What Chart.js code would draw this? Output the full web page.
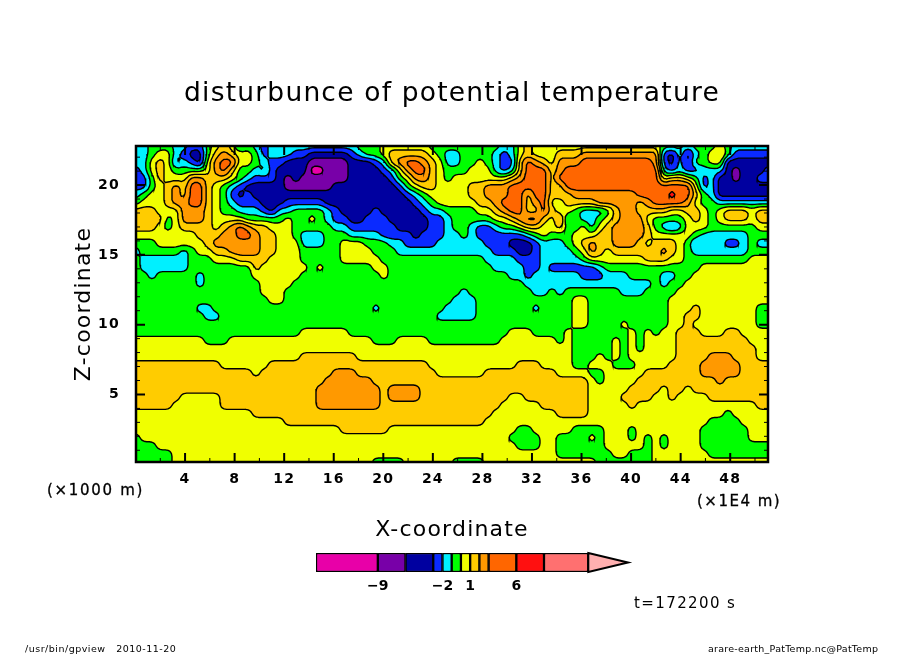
<!DOCTYPE html>
<html>
<head>
<meta charset="utf-8">
<style>
  html, body { margin: 0; padding: 0; background: #fff; }
  #wrap { position: relative; width: 904px; height: 654px; overflow: hidden; }
  canvas { position: absolute; }
  .note { position: absolute; white-space: pre; color: #000; font-family: "DejaVu Sans", sans-serif; line-height: 1; }
</style>
<script src="https://cdn.jsdelivr.net/npm/chart.js@4"></script>
</head>
<body>
<div id="wrap">
  <canvas id="main_chart" width="904" height="654" style="left:0;top:0"></canvas>
  <canvas id="bar_chart" width="344" height="60" style="left:296px;top:545px"></canvas>
  <div class="note" style="left:47px;top:483px;font-size:15px;letter-spacing:1.7px;-webkit-text-stroke:.3px #000">(×1000 m)</div>
  <div class="note" style="left:697px;top:494px;font-size:15px;letter-spacing:1.5px;-webkit-text-stroke:.3px #000">(×1E4 m)</div>
  <div class="note" style="left:634px;top:596px;font-size:15px;letter-spacing:1.4px">t=172200 s</div>
  <div class="note" style="left:25px;top:644px;font-size:9.5px;letter-spacing:.5px">/usr/bin/gpview   2010-11-20</div>
  <div class="note" style="left:708px;top:644px;font-size:9.5px;letter-spacing:.25px">arare-earth_PatTemp.nc@PatTemp</div>
</div>
<script>
const titleText = "disturbunce of potential temperature";
const xTitle = "X-coordinate";
const zTitle = "Z-coordinate";

// colour classes, lowest to highest, a..m in the rows below
const levelKeys = "abcdefghijklm";
const levelColors = ["#e800a8","#7800a8","#0000a0","#0a2aff","#00f0ff","#00ff00","#f0ff00","#ffcc00","#ff9900","#ff6600","#ff1010","#ff7070","#ffb0b0"];
const levelBounds = [-15.7,-9,-6,-3,-2,-1,0,1,2,3,6,9,13.8];
const barTip = 18.1;
const barTicks = [-9,-2,1,6];

const xMin = 0.04, xMax = 51.05;
const zMin = 0.16, zMax = 22.8;

// field, top row first, one letter per grid node
const rowsLeft = [
"eefffeeddfghgefedeeeeeeeeee",
"eefggedccfhihggfdeeeddccccc",
"eeghgdedcgijjggfeddcccbbbbb",
"deghgffffgijhffefdccccaabbb",
"ddfhgggiihhhgfedddcbcbbbbbb",
"ddfghihjjhgfedcccccbbbbbbcc",
"efgghihjjhgfdcdcccccccccccc",
"fggghiijjhgfedddcccdddddccc",
"hhhgggiiihgffeeedceeffffedc",
"hhhhfgiiihggggfffffgffgfedd",
"hhhgfghhhhghijihhgggfffffee",
"gggggggghhhiijjihhggfeeefff",
"fffgggggghiiiiiihhgggeeeffg",
"efffffefgghhiiiihhgggfffffg",
"feeeeeefffggghhhhggggfffffg",
"feeeeeeffffffffhggggggfgfff",
"ffefffffeffffffggggggffffff",
"ffffffffefffffffggggfffffff",
"ffffffffffffffffgggffffffff",
"fffffffffffffffffggffffffff",
"ffffffffeefffffffffffffffff",
"fffffffffeeffffffffffffffff",
"fffffffffffffffffffffffffff",
"fffffffffffffffffffffgggggg",
"gggggggggfffggggggggggggggg",
"ggggggggggggggggggggggggggg",
"ggggggggggggggggggggghhhhhh",
"hhhhhhhhhhhgggggghhhhhhhhhh",
"hhhhhhhhhhhhhhhghhhhhhhhhii",
"hhhhhhhhhhhhhhhhhhhhhhhhiii",
"hhhhhhhhhhhhhhhhhhhhhhhiiii",
"hhhhhhggggghhhhhhhhhhhhiiii",
"hhhhhgggggghhhhhhhhhhhhiiii",
"ggggggggggggggghhhhhhhhhhhh",
"ggggggggggggggggggghhhhhhhh",
"ggggggggggggggggggggggggggh",
"fgggggggggggggggggggggggggg",
"fffgggggggggggggggggggggggg",
"fffffgggggggggggggggggggggg",
"fffffgggggggggggggggggggggg"];
const rowsMid = [
"efffggggggfffffffffeeghggg",
"deffghhhhhgfeeffffedeghggg",
"cccdehijjihgeeffgfeddhjihg",
"ccccdegijjhgfffgggedehjjjh",
"cccccdfgiihgfggggggghijjjh",
"ccccccdfghhgggghhiiijjjjjh",
"cccccccdefggggghhiiijjhjjh",
"ccccccccdefggggghhijjjhijg",
"cccdcccccdeeffffgghijjhhjh",
"ccdddcccccddefffffgghijjhg",
"ddddddccccddeffeddeffghhgg",
"eeeeddddcdddeefeddddddefgf",
"ggfffeeddddeeeeeedddcccdee",
"gggfffeeeeeeeeeeeedddccdee",
"ggggfffffffffffffeeeedddee",
"fffggfffffffffffffeeeedded",
"ffffgfffffffffffffffeedeee",
"ffffffffffffffffffffffeeee",
"ffffffffffffffeffffffffeef",
"fffffffffffffeeeffffffffff",
"fffeffffffffeeeefffffffeff",
"fffffffffffeeeeeffffffffff",
"ffffffffffffffffffffffffff",
"ffffffffffffffffffffgggfff",
"gggfffggggfffffffffggggggg",
"gggggggggggggggggggggggggg",
"hggggggggggggggggggggggggg",
"hhhhhhhhhhggggggggggghhhgg",
"ihhhhhhhhhhgggggghhhhhhhhh",
"iiihhhhhhhhhhhhhhhhhhhhhhh",
"iiiihiiiihhhhhhhhhhhhhhhhh",
"iiiihiiiihhhhhhhhhhhgghhhh",
"iiiihhhhhhhhhhhhhhhggggghh",
"hhhhhhhhhhhhhhhhhhgggggggg",
"hhhhhhhhhhhhhhhhhggggggggg",
"hhhhhggggggggggggggggffggg",
"ggggggggggggggggggggffffgg",
"gggggggggggggggggggggfffgg",
"gggggggggggggggggggggggggg",
"gggffffggggggffffggggggggg"];
const rowsRight = [
"gggggggggggggfffefffgfeeeee",
"hhhiiiiiiiiiidcecefghfddddd",
"iiijjjjjjjjjidcecffggcccccc",
"ijjjjjjjjjjjjededdeeecbcccd",
"jjjjjjjjjjjjjghhgfdeccbccdd",
"hjjjjjjjjjjjjjjjjgdeccccccc",
"hhiiiiiiiijjjjkjjhfeccccccc",
"ghhhhiiiiihijjjjigffeeeeeee",
"ggfeeefhiihhhhgghhgfghhhghh",
"iefeefghiiigffffghgfghhhghh",
"hffgeghiiiihfedegggffffffgg",
"ffggghhiiiihgggggfeeeeeefff",
"efghihhiiihghhhgfdeeeddefee",
"eefgihghhhhhhihgfeeeeeeefff",
"eeefggggggghhhggffffffffggg",
"dddddeffffffffffffggggggggg",
"eeedddeeeffffeeffgggggggggg",
"eeeeeeeeeeeefeffggggggggggg",
"efffffffeeeffffgggggggggggg",
"ffggffffffffffggggggggggggg",
"ffggffffffffffggghgggggggff",
"ffggffffffffffgghhgggggggff",
"ffggffffgfffffgghggggggggff",
"fgfffffffgfgfgghhhggghhgggg",
"fgfffffgfgfgggghhhhhhhhhggg",
"ggfffffgfgfgggghhhhhhhhhhgg",
"ggfffgfgfgggggghhhhiiihhhgg",
"ggffgggfffgggghhhhiiiiihhhh",
"ggggffggggghhhhhhhiiiiihhhh",
"hhhhgfgggghhhhhhhhhhihhhhhh",
"hhhhggggghhhhghhghhhhhhhhhh",
"hhhhgggghhhhgghgggghhhhhhhh",
"hhhhggggghggggggggggggggghh",
"hhhhgggggggggggggggggfggggg",
"gggggggggggggggggggffffgggg",
"ggffffgggfggggggggffffffggg",
"ffffgfgggfgfgfggggffffffggg",
"ffffffgggggfgfggggfffffffff",
"fffffffggfffgggggggffffffff",
"gggggfffffffggggggggggggggg"];

const field = rowsLeft.map(function(row, j) {
    const whole = row.padEnd(27, row[26]) + rowsMid[j].padEnd(26, "f") + rowsRight[j].padEnd(27, "g");
    return Array.from(whole.slice(0, 80)).map(c => levelKeys.indexOf(c));
});

// contouring mesh: the read field refined and rounded so the bands come out curved
const REFINE = 3;
function roundField(src) {
    const h = src.length, w = src[0].length;
    const H = (h - 1) * REFINE + 1, W = (w - 1) * REFINE + 1;
    const out = [];
    for (let j = 0; j < H; j++) {
        const r = [], j0 = Math.min(Math.floor(j / REFINE), h - 2), fj = j / REFINE - j0;
        for (let i = 0; i < W; i++) {
            const i0 = Math.min(Math.floor(i / REFINE), w - 2), fi = i / REFINE - i0;
            r.push((src[j0][i0] * (1 - fi) + src[j0][i0 + 1] * fi) * (1 - fj) +
                   (src[j0 + 1][i0] * (1 - fi) + src[j0 + 1][i0 + 1] * fi) * fj);
        }
        out.push(r);
    }
    return out.map(function(r, j) {
        return r.map(function(v, i) {
            let s = 0;
            for (let b = -1; b <= 1; b++) {
                for (let a = -1; a <= 1; a++) {
                    const jj = Math.max(0, Math.min(H - 1, j + b)), ii = Math.max(0, Math.min(W - 1, i + a));
                    s += out[jj][ii];
                }
            }
            return s / 9;
        });
    });
}
const mesh = roundField(field);
const nRows = mesh.length, nCols = mesh[0].length;

// crossings of one mesh square with a threshold, plus the part above it
function cutSquare(i, j, t) {
    const corners = [[i, j], [i + 1, j], [i + 1, j + 1], [i, j + 1]];
    const poly = [], cross = [];
    for (let k = 0; k < 4; k++) {
        const a = corners[k], b = corners[(k + 1) % 4];
        const va = mesh[a[1]][a[0]], vb = mesh[b[1]][b[0]];
        if (va >= t) poly.push(a);
        if ((va >= t) !== (vb >= t)) {
            const f = (t - va) / (vb - va);
            const p = [a[0] + (b[0] - a[0]) * f, a[1] + (b[1] - a[1]) * f];
            poly.push(p);
            cross.push(p);
        }
    }
    return { poly: poly, cross: cross };
}

function toData(p) {
    return {
        x: xMin + p[0] * (xMax - xMin) / (nCols - 1),
        y: zMax - p[1] * (zMax - zMin) / (nRows - 1)
    };
}

function contourPoints() {
    const pts = [];
    for (let L = 1; L < levelColors.length; L++) {
        for (let j = 0; j < nRows - 1; j++) {
            for (let i = 0; i < nCols - 1; i++) {
                const c = cutSquare(i, j, L - 0.5).cross;
                for (let k = 0; k + 1 < c.length; k += 2) {
                    pts.push(toData(c[k]), toData(c[k + 1]), { x: NaN, y: NaN });
                }
            }
        }
    }
    return pts;
}

// colour bands under the contour lines
const bandFill = {
    id: "bandFill",
    beforeDatasetsDraw(chart) {
        const ctx = chart.ctx, sx = chart.scales.x, sy = chart.scales.y, area = chart.chartArea;
        ctx.save();
        ctx.beginPath();
        ctx.rect(area.left, area.top, area.width, area.height);
        ctx.clip();
        for (let L = 0; L < levelColors.length; L++) {
            ctx.beginPath();
            for (let j = 0; j < nRows - 1; j++) {
                for (let i = 0; i < nCols - 1; i++) {
                    const poly = cutSquare(i, j, L - 0.5).poly;
                    poly.forEach(function(p, k) {
                        const d = toData(p);
                        const px = sx.getPixelForValue(d.x), py = sy.getPixelForValue(d.y);
                        if (k == 0) ctx.moveTo(px, py); else ctx.lineTo(px, py);
                    });
                    if (poly.length) ctx.closePath();
                }
            }
            ctx.fillStyle = levelColors[L];
            ctx.fill();
        }
        ctx.restore();
    }
};

// frame and inward ticks on all four sides
const frameTicks = {
    id: "frameTicks",
    beforeDraw(chart) { chart.ctx.letterSpacing = "1.2px"; },
    afterDatasetsDraw(chart) {
        const ctx = chart.ctx, sx = chart.scales.x, sy = chart.scales.y, a = chart.chartArea;
        ctx.save();
        ctx.strokeStyle = "#000";
        for (let v = 2; v <= 50; v += 2) {
            const major = v % 4 == 0, len = major ? 9 : 4, px = sx.getPixelForValue(v);
            ctx.lineWidth = major ? 2 : 1;
            ctx.beginPath();
            ctx.moveTo(px, a.bottom); ctx.lineTo(px, a.bottom - len);
            ctx.moveTo(px, a.top); ctx.lineTo(px, a.top + len);
            ctx.stroke();
        }
        for (let v = 1; v <= 22; v++) {
            const major = v % 5 == 0, len = major ? 9 : 4, py = sy.getPixelForValue(v);
            ctx.lineWidth = major ? 2 : 1;
            ctx.beginPath();
            ctx.moveTo(a.left, py); ctx.lineTo(a.left + len, py);
            ctx.moveTo(a.right, py); ctx.lineTo(a.right - len, py);
            ctx.stroke();
        }
        ctx.lineWidth = 2.5;
        ctx.strokeRect(a.left, a.top, a.width, a.height);
        ctx.restore();
    }
};

new Chart(document.getElementById("main_chart"), {
    type: "scatter",
    plugins: [bandFill, frameTicks],
    data: {
        datasets: [{
            data: contourPoints(),
            showLine: true,
            spanGaps: false,
            pointRadius: 0,
            borderColor: "#000",
            borderWidth: 1.4,
            borderCapStyle: "round"
        }]
    },
    options: {
        responsive: false,
        animation: false,
        devicePixelRatio: 1,
        events: [],
        layout: { padding: { left: 71, right: 71, top: 0, bottom: 111 } },
        plugins: {
            legend: { display: false },
            tooltip: { enabled: false },
            title: {
                display: true,
                text: titleText,
                color: "#000",
                font: { family: "DejaVu Sans", size: 26.5, weight: "normal" },
                padding: { top: 78, bottom: 36.2 }
            }
        },
        scales: {
            x: {
                type: "linear",
                min: xMin, max: xMax,
                afterFit(s) { s.height = 81; },
                grid: { display: false },
                border: { display: false },
                ticks: {
                    stepSize: 4, includeBounds: false, autoSkip: false, maxRotation: 0,
                    color: "#000", padding: 1,
                    font: { family: "DejaVu Sans", size: 14, weight: "bold" }
                },
                title: {
                    display: true, text: xTitle, color: "#000", padding: 0,
                    font: { family: "DejaVu Sans", size: 22 }
                }
            },
            y: {
                type: "linear",
                min: zMin, max: zMax,
                afterFit(s) { s.width = 65; },
                grid: { display: false },
                border: { display: false },
                ticks: {
                    stepSize: 5, includeBounds: false, autoSkip: false,
                    color: "#000", padding: 8,
                    font: { family: "DejaVu Sans", size: 14, weight: "bold" }
                },
                title: {
                    display: true, text: zTitle, color: "#000", padding: 0,
                    font: { family: "DejaVu Sans", size: 22 }
                }
            },
            spare: {
                type: "linear",
                position: "right",
                afterFit(s) { s.width = 65; },
                grid: { display: false },
                border: { display: false },
                ticks: { display: false }
            }
        }
    }
});

// arrow at the top end of the colour bar
const barArrow = {
    id: "barArrow",
    afterDatasetsDraw(chart) {
        const ctx = chart.ctx, sx = chart.scales.x, a = chart.chartArea;
        const x0 = sx.getPixelForValue(levelBounds[levelBounds.length - 1]), x1 = sx.getPixelForValue(barTip);
        ctx.save();
        ctx.beginPath();
        ctx.moveTo(x0, a.top);
        ctx.lineTo(x1, (a.top + a.bottom) / 2);
        ctx.lineTo(x0, a.bottom);
        ctx.closePath();
        ctx.fillStyle = levelColors[12];
        ctx.fill();
        ctx.lineWidth = 2;
        ctx.strokeStyle = "#000";
        ctx.stroke();
        ctx.restore();
    }
};

new Chart(document.getElementById("bar_chart"), {
    type: "bar",
    plugins: [barArrow],
    data: {
        labels: [""],
        datasets: levelBounds.slice(0, -1).map(function(lo, k) {
            return {
                data: [[lo, levelBounds[k + 1]]],
                backgroundColor: levelColors[k],
                borderColor: "#000",
                borderWidth: 1.5,
                borderSkipped: false,
                barPercentage: 1,
                categoryPercentage: 1,
                grouped: false
            };
        })
    },
    options: {
        indexAxis: "y",
        responsive: false,
        animation: false,
        devicePixelRatio: 1,
        events: [],
        layout: { padding: { left: 20, right: 12, top: 8, bottom: 0 } },
        plugins: { legend: { display: false }, tooltip: { enabled: false } },
        scales: {
            y: { display: false, grid: { display: false } },
            x: {
                type: "linear",
                min: levelBounds[0], max: barTip,
                afterBuildTicks(s) { s.ticks = barTicks.map(v => ({ value: v })); },
                afterFit(s) { s.height = 33; },
                grid: { display: false },
                border: { display: false },
                ticks: {
                    autoSkip: false, maxRotation: 0, color: "#000", padding: -2,
                    callback: v => String(v).replace("-", "\u2212"),
                    font: { family: "DejaVu Sans", size: 14, weight: "bold" }
                }
            }
        }
    }
});
</script>
</body>
</html>
